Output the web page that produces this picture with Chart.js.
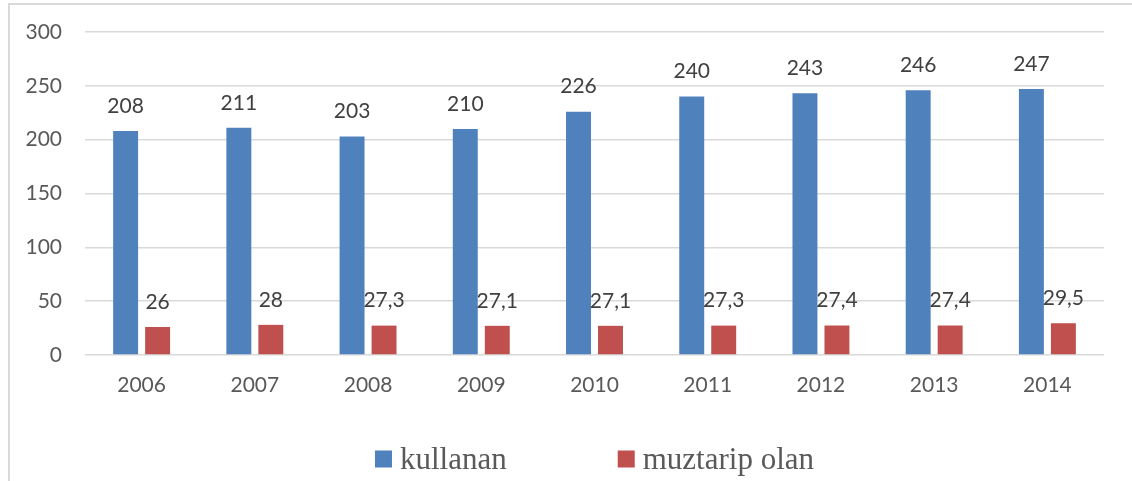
<!DOCTYPE html>
<html>
<head>
<meta charset="utf-8">
<script src="https://cdn.jsdelivr.net/npm/chart.js@4/dist/chart.umd.min.js"></script>
<style>
  html, body { margin: 0; padding: 0; background: #fff; }
  #wrap { width: 1132px; height: 481px; }
</style>
</head>
<body>
<div id="wrap"><canvas id="myChart" width="1132" height="481"></canvas></div>
<script>
// yıllar
const years = ['2006', '2007', '2008', '2009', '2010', '2011', '2012', '2013', '2014'];
const kullanan = [208, 211, 203, 210, 226, 240, 243, 246, 247];
const muztarip = [26, 28, 27.3, 27.1, 27.1, 27.3, 27.4, 27.4, 29.5];
const seriesNames = ['kullanan', 'muztarip olan'];
const yTicks = [0, 50, 100, 150, 200, 250, 300];

const blue = '#4f81bd';
const red = '#c0504d';
const tickFont = { family: 'Lato', size: 21 };

// etiketler çubukların üstüne
const valueLabels = {
  id: 'valueLabels',
  afterDatasetsDraw(chart) {
    const { ctx } = chart;
    ctx.save();
    ctx.font = '21px Lato';
    ctx.fillStyle = '#404040';
    ctx.textAlign = 'center';
    ctx.textBaseline = 'middle';
    chart.data.datasets.forEach((ds, i) => {
      chart.getDatasetMeta(i).data.forEach((bar, j) => {
        ctx.fillText(String(ds.data[j]).replace('.', ','), bar.x, bar.y - 25);
      });
    });
    ctx.restore();
  },
};

// çerçeve + alttaki lejant
const frameLegend = {
  id: 'frameLegend',
  beforeDraw(chart) {
    const { ctx } = chart;
    ctx.save();
    ctx.fillStyle = '#fff';
    ctx.fillRect(0, 0, chart.width, chart.height);
    ctx.strokeStyle = '#d9d9d9';
    ctx.lineWidth = 2;
    ctx.beginPath();
    ctx.moveTo(9, chart.height);
    ctx.lineTo(9, 4);
    ctx.lineTo(chart.width, 4);
    ctx.stroke();
    ctx.restore();
  },
  afterDraw(chart) {
    const { ctx, chartArea } = chart;
    ctx.save();
    ctx.font = '31px "Liberation Serif"';
    ctx.textBaseline = 'middle';
    const box = 17;
    const gapText = 8;
    const gapItem = 111;
    const items = chart.data.datasets.map((ds) => ({ text: ds.label, color: ds.backgroundColor, w: ctx.measureText(ds.label).width }));
    const total = items.reduce((s, it) => s + box + gapText + it.w, 0) + gapItem * (items.length - 1);
    let x = (chartArea.left + chartArea.right) / 2 - total / 2;
    const y = 459;
    items.forEach((it) => {
      ctx.fillStyle = it.color;
      ctx.fillRect(x, y - box / 2, box, box);
      x += box + gapText;
      ctx.fillStyle = '#595959';
      ctx.fillText(it.text, x, y + 2);
      x += it.w + gapItem;
    });
    ctx.restore();
  },
};

new Chart(document.getElementById('myChart'), {
  type: 'bar',
  data: {
    labels: years,
    datasets: [
      {
        label: seriesNames[0],
        data: kullanan,
        backgroundColor: blue,
        borderWidth: 0,
        barPercentage: 0.78,
        categoryPercentage: 0.565,
      },
      {
        label: seriesNames[1],
        data: muztarip,
        backgroundColor: red,
        borderWidth: 0,
        barPercentage: 0.78,
        categoryPercentage: 0.565,
      },
    ],
  },
  options: {
    responsive: false,
    animation: false,
    layout: { padding: { top: 32, right: 28, left: 0, bottom: 0 } },
    plugins: {
      legend: { display: false },
      tooltip: { enabled: false },
    },
    scales: {
      x: {
        grid: { display: false, drawTicks: false },
        border: { display: false },
        ticks: { color: '#595959', font: tickFont, padding: 18 },
        afterFit: (s) => { s.height = 126; s.paddingLeft = 0; s.paddingRight = 0; },
      },
      y: {
        min: 0,
        max: 300,
        afterBuildTicks: (s) => { s.ticks = yTicks.map((v) => ({ value: v })); },
        grid: { color: '#d9d9d9', lineWidth: 1.5, drawTicks: false },
        border: { display: false },
        ticks: { color: '#595959', font: tickFont, padding: 23 },
        afterFit: (s) => { s.width = 85; s.paddingTop = 0; s.paddingBottom = 0; },
      },
    },
  },
  plugins: [valueLabels, frameLegend],
});
</script>
</body>
</html>
